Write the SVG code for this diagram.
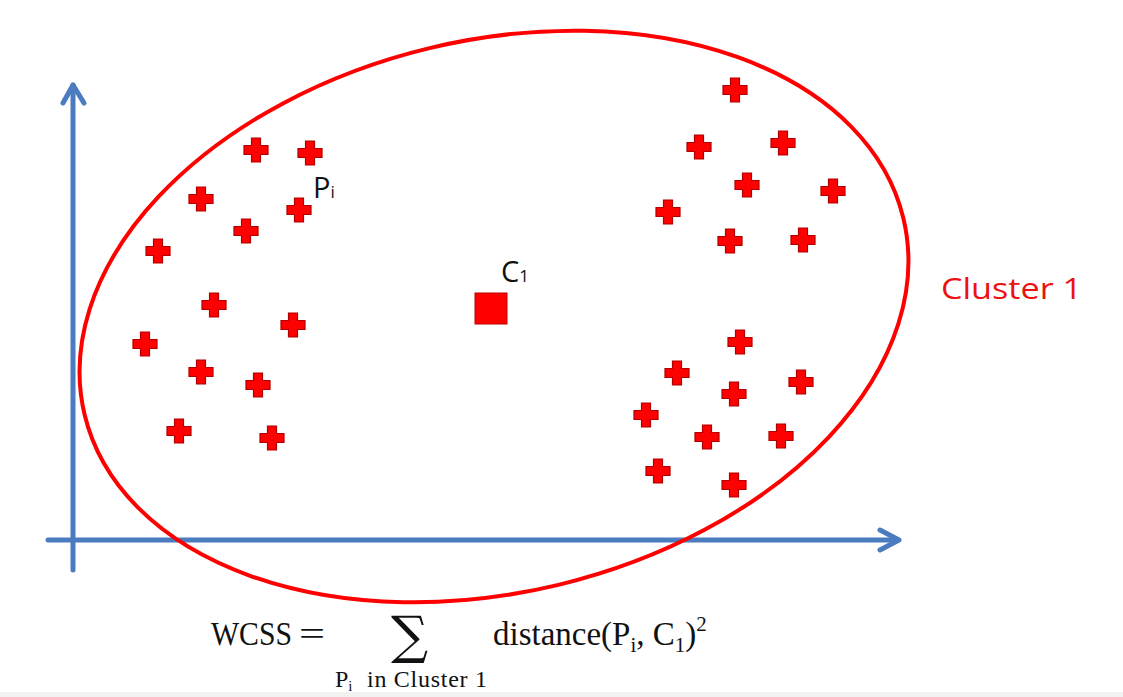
<svg xmlns="http://www.w3.org/2000/svg" width="1123" height="697" viewBox="0 0 1123 697">
<style>
.axis{stroke:#4a7cbf;stroke-width:5;fill:none;stroke-linecap:round;stroke-linejoin:round}
.lbl{font-family:"Open Sans","Noto Sans",sans-serif;fill:#111}
.math{font-family:"Liberation Serif","DejaVu Serif",serif;fill:#111}
</style>
<defs>
<path id="plus" d="M-4.5,-12H4.5V-4.5H12V4.5H4.5V12H-4.5V4.5H-12V-4.5H-4.5Z" fill="#ff0000" stroke="#b00000" stroke-width="1.2"/>
</defs>
<rect width="1123" height="697" fill="#ffffff"/>
<rect x="0" y="692" width="1123" height="5" fill="#f2f2f2"/>
<g id="axes">
<path class="axis" d="M73,570V85"/>
<path class="axis" d="M63,103L73,85L84,103"/>
<path class="axis" d="M48,540H898"/>
<path class="axis" d="M880,530L899,540L880,550"/>
</g>
<g id="cluster1">
<ellipse cx="494" cy="316.5" rx="421" ry="276" transform="rotate(-13.5 494 316.5)" fill="none" stroke="#ff0000" stroke-width="4"/>
<text x="941" y="299" font-family="'Open Sans','Noto Sans',sans-serif" font-size="30" fill="#ee1111" textLength="141" lengthAdjust="spacingAndGlyphs">Cluster 1</text>
</g>
<g id="points">
<use href="#plus" x="256" y="150"/>
<use href="#plus" x="310" y="153"/>
<use href="#plus" x="201" y="199"/>
<use href="#plus" x="299" y="210"/>
<use href="#plus" x="246" y="231"/>
<use href="#plus" x="158" y="251"/>
<use href="#plus" x="214" y="305"/>
<use href="#plus" x="293" y="325"/>
<use href="#plus" x="145" y="344"/>
<use href="#plus" x="201" y="372"/>
<use href="#plus" x="258" y="385"/>
<use href="#plus" x="179" y="431"/>
<use href="#plus" x="272" y="438"/>
<use href="#plus" x="735" y="90"/>
<use href="#plus" x="699" y="147"/>
<use href="#plus" x="783" y="143"/>
<use href="#plus" x="747" y="185"/>
<use href="#plus" x="833" y="191"/>
<use href="#plus" x="668" y="212"/>
<use href="#plus" x="730" y="241"/>
<use href="#plus" x="803" y="240"/>
<use href="#plus" x="740" y="342"/>
<use href="#plus" x="677" y="373"/>
<use href="#plus" x="801" y="382"/>
<use href="#plus" x="734" y="394"/>
<use href="#plus" x="646" y="415"/>
<use href="#plus" x="707" y="437"/>
<use href="#plus" x="781" y="436"/>
<use href="#plus" x="658" y="471"/>
<use href="#plus" x="734" y="485"/>
</g>
<g id="point-label">
<text class="lbl" x="313" y="198" font-size="29">P<tspan font-size="17">i</tspan></text>
</g>
<g id="centroid">
<rect x="475" y="293" width="32" height="31" fill="#ff0000" stroke="#c00000" stroke-width="1"/>
<text class="lbl" x="501" y="282" font-size="29">C<tspan font-size="17">1</tspan></text>
</g>
<g id="formula">
<text class="math" x="211" y="645" font-size="33" textLength="81" lengthAdjust="spacingAndGlyphs">WCSS</text>
<text class="math" font-size="33" transform="translate(299,645) scale(1.4,1)">=</text>
<text font-family="'DejaVu Serif',serif" x="391" y="653" font-size="52" fill="#111">∑</text>
<text class="math" x="493" y="645" font-size="33">distance(P<tspan font-size="21" dy="7">i</tspan><tspan dy="-7">, C</tspan><tspan font-size="21" dy="7">1</tspan><tspan dy="-7">)</tspan><tspan font-size="21" dy="-14">2</tspan></text>
<text class="math" x="335" y="687" font-size="24">P<tspan font-size="15" dy="4">i</tspan></text>
<text class="math" x="367" y="687" font-size="24" textLength="120" lengthAdjust="spacing">in Cluster 1</text>
</g>
</svg>
